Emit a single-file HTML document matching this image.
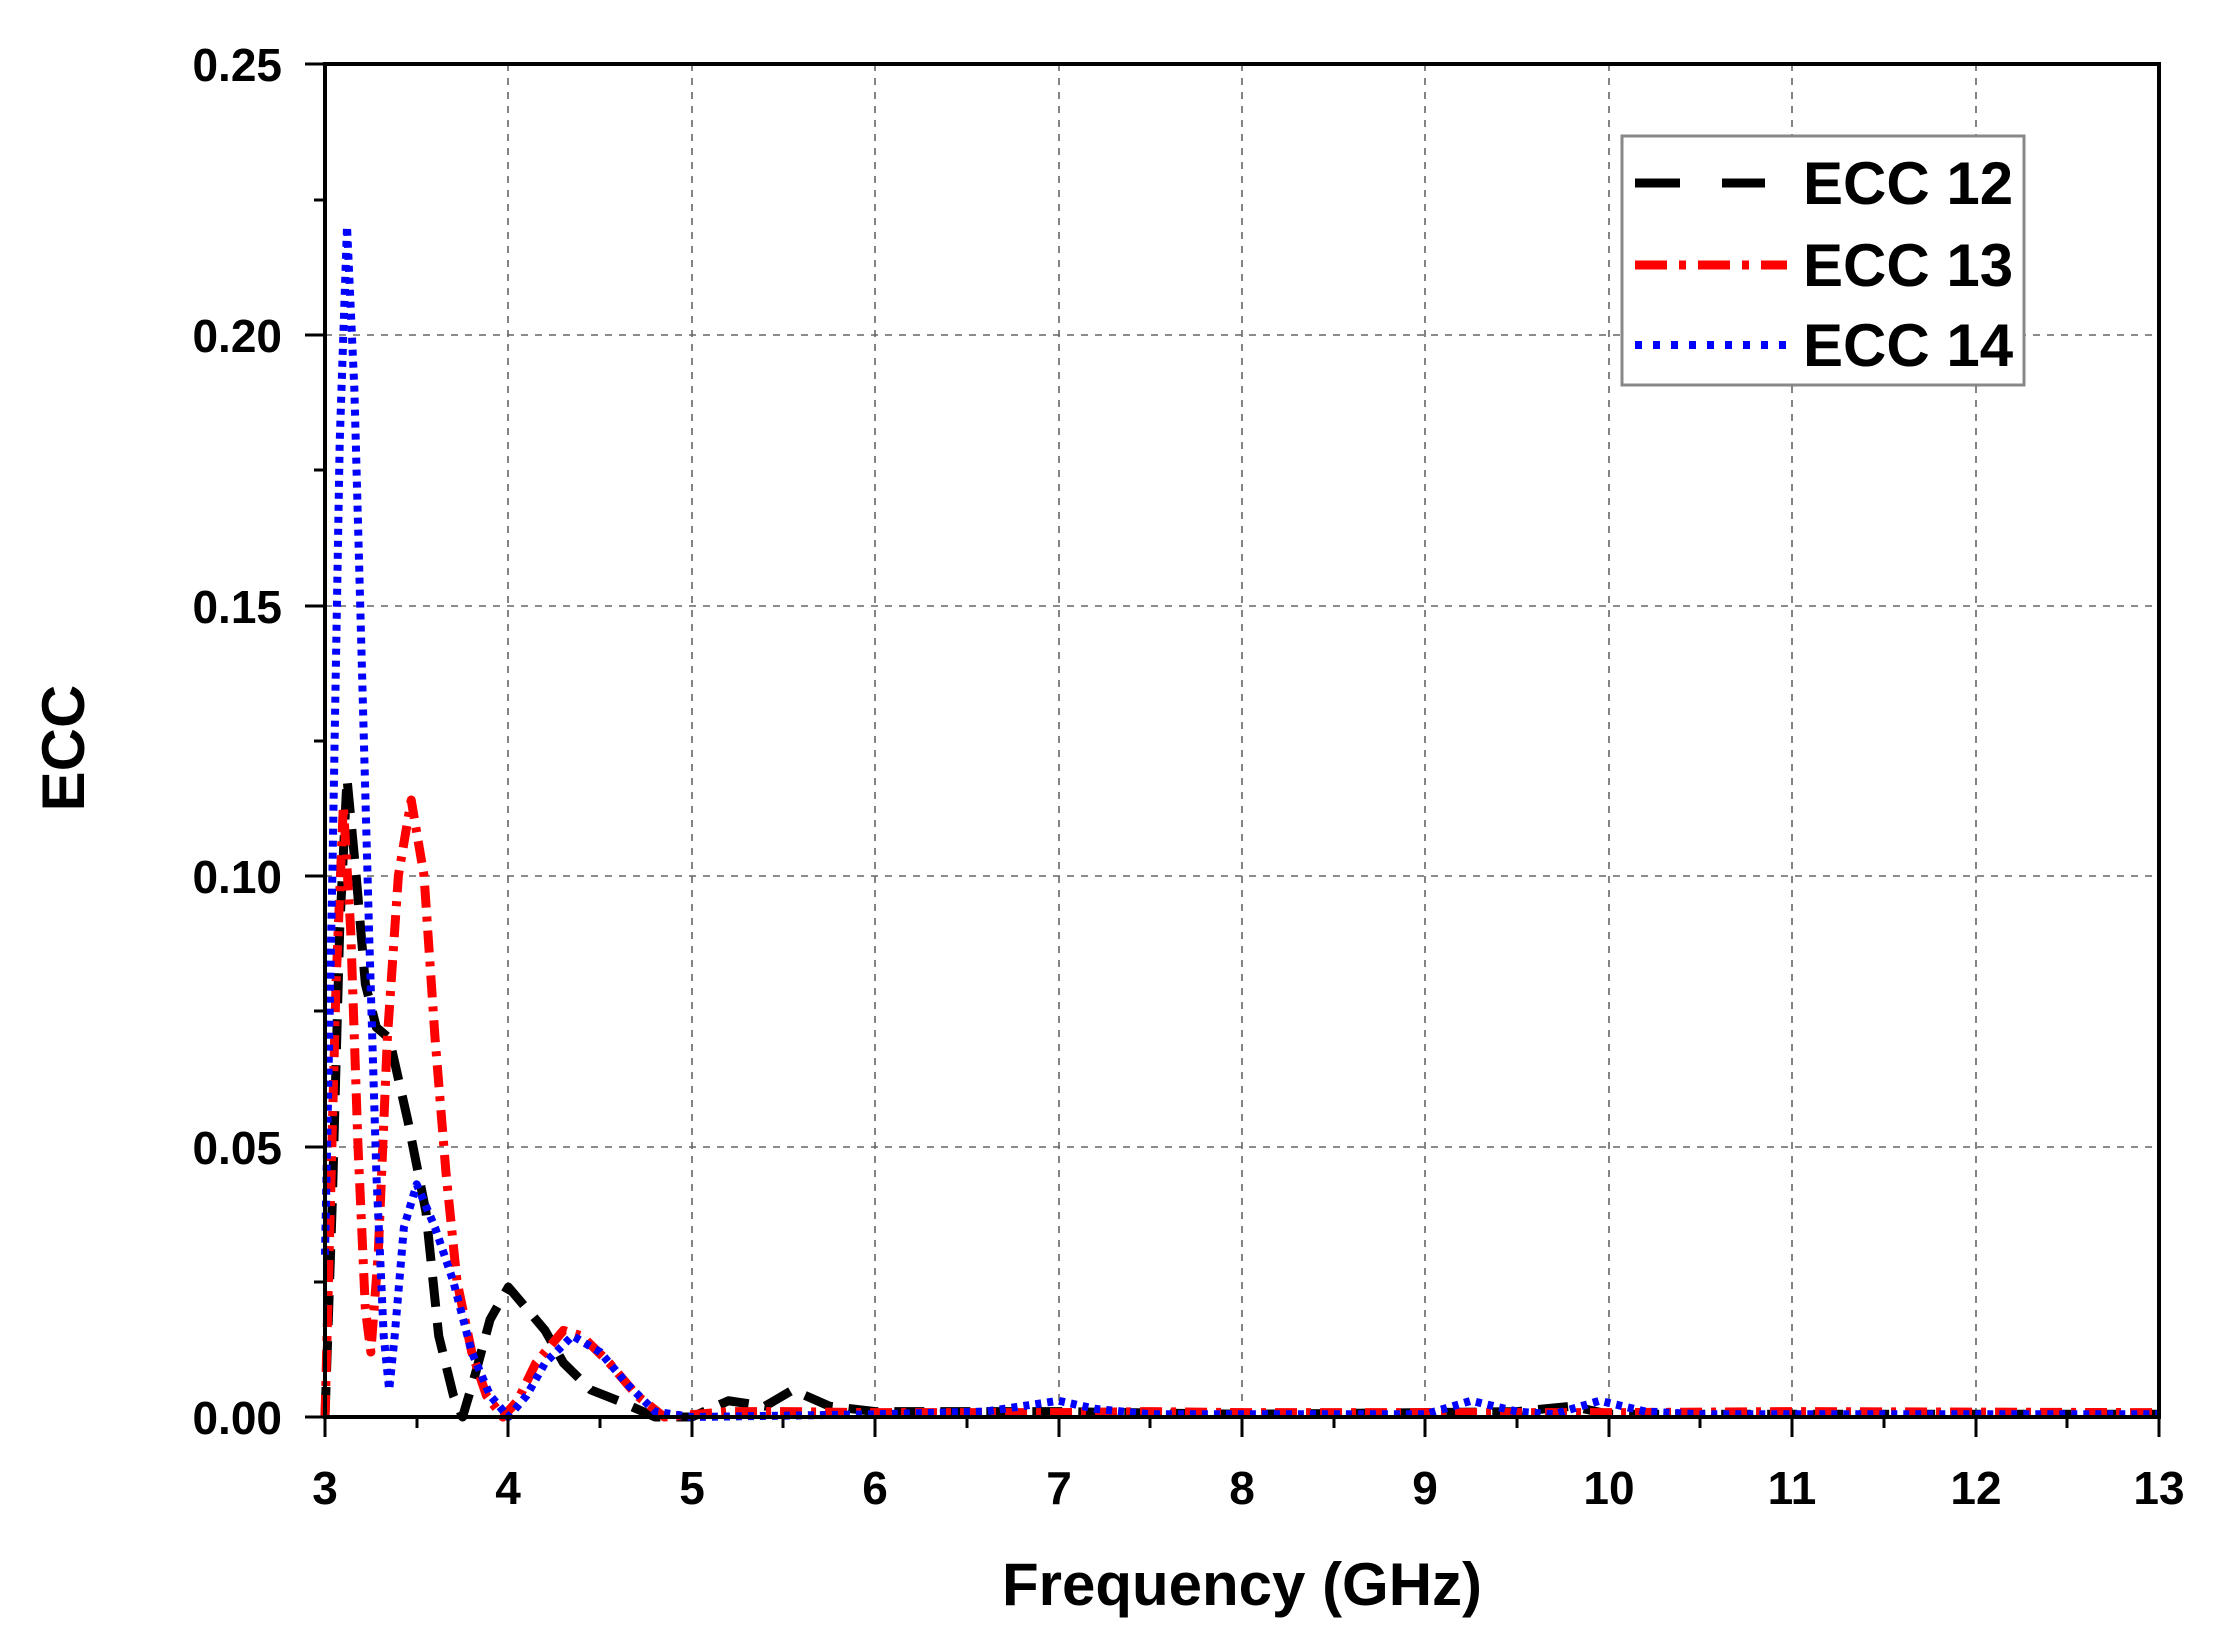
<!DOCTYPE html>
<html><head><meta charset="utf-8"><style>
html,body{margin:0;padding:0;background:#fff;}
svg{display:block;}
text{font-family:"Liberation Sans",Arial,sans-serif;font-weight:bold;fill:#000;}
</style></head><body>
<svg width="2226" height="1650" viewBox="0 0 2226 1650" xmlns="http://www.w3.org/2000/svg">
<rect width="2226" height="1650" fill="#fff"/>
<g stroke="#666" stroke-width="1.6" stroke-dasharray="7,7" fill="none">
<line x1="508" y1="64" x2="508" y2="1417"/>
<line x1="692" y1="64" x2="692" y2="1417"/>
<line x1="875" y1="64" x2="875" y2="1417"/>
<line x1="1059" y1="64" x2="1059" y2="1417"/>
<line x1="1242" y1="64" x2="1242" y2="1417"/>
<line x1="1425" y1="64" x2="1425" y2="1417"/>
<line x1="1609" y1="64" x2="1609" y2="1417"/>
<line x1="1792" y1="64" x2="1792" y2="1417"/>
<line x1="1976" y1="64" x2="1976" y2="1417"/>
<line x1="325" y1="335" x2="2159" y2="335"/>
<line x1="325" y1="606" x2="2159" y2="606"/>
<line x1="325" y1="876" x2="2159" y2="876"/>
<line x1="325" y1="1147" x2="2159" y2="1147"/>
</g>
<g transform="translate(325,1417) scale(183.4,-5412)" fill="none" stroke-linejoin="round">
<polyline vector-effect="non-scaling-stroke" stroke="#000" stroke-width="9" stroke-dasharray="30,16"
points="0,0 0.04,0.04 0.08,0.09 0.12,0.118 0.17,0.1 0.22,0.08 0.28,0.072 0.35,0.07 0.45,0.055 0.55,0.038 0.62,0.015 0.7,0.004 0.75,0 0.82,0.008 0.9,0.018 1.0,0.024 1.1,0.02 1.2,0.016 1.3,0.01 1.45,0.005 1.6,0.003 1.8,0 2.0,0 2.2,0.003 2.4,0.002 2.55,0.005 2.75,0.002 3,0.001 4,0.001 5,0.0005 6,0.0008 6.5,0.001 6.8,0.002 7,0.0005 8,0.0005 10,0.0005"/>
<polyline vector-effect="non-scaling-stroke" stroke="#f00" stroke-width="9" stroke-dasharray="22,9,5,9"
points="0,0 0.03,0.04 0.06,0.08 0.1,0.113 0.14,0.09 0.18,0.05 0.22,0.02 0.25,0.012 0.29,0.03 0.34,0.07 0.4,0.1 0.47,0.114 0.54,0.1 0.6,0.07 0.66,0.045 0.72,0.025 0.8,0.012 0.88,0.004 0.97,0 1.05,0.003 1.15,0.01 1.3,0.016 1.4,0.015 1.55,0.01 1.7,0.004 1.85,0 2.2,0.001 2.5,0.001 3,0.0008 4,0.0008 4.5,0.001 5,0.0008 6,0.0008 7,0.0008 8,0.001 10,0.0008"/>
<polyline vector-effect="non-scaling-stroke" stroke="#00f" stroke-width="8" stroke-dasharray="6,6"
points="0,0.03 0.04,0.1 0.08,0.18 0.12,0.22 0.16,0.19 0.2,0.14 0.24,0.09 0.28,0.045 0.32,0.015 0.35,0.005 0.38,0.015 0.43,0.035 0.5,0.043 0.6,0.035 0.7,0.025 0.8,0.012 0.9,0.004 1.0,0 1.1,0.004 1.2,0.01 1.35,0.015 1.5,0.012 1.65,0.006 1.8,0.001 2,0 3,0.0005 3.6,0.001 3.8,0.002 4,0.003 4.2,0.0015 4.5,0.0005 5.5,0.0005 6,0.0005 6.25,0.003 6.5,0.001 6.7,0.0005 6.95,0.003 7.2,0.001 7.5,0.0005 10,0.0005"/>
</g>
<rect x="325" y="64" width="1834" height="1353" fill="none" stroke="#000" stroke-width="4"/>
<g stroke="#000" stroke-width="3">
<line x1="325" y1="1417" x2="325" y2="1437"/><line x1="508" y1="1417" x2="508" y2="1437"/><line x1="692" y1="1417" x2="692" y2="1437"/><line x1="875" y1="1417" x2="875" y2="1437"/><line x1="1059" y1="1417" x2="1059" y2="1437"/><line x1="1242" y1="1417" x2="1242" y2="1437"/><line x1="1425" y1="1417" x2="1425" y2="1437"/><line x1="1609" y1="1417" x2="1609" y2="1437"/><line x1="1792" y1="1417" x2="1792" y2="1437"/><line x1="1976" y1="1417" x2="1976" y2="1437"/><line x1="2159" y1="1417" x2="2159" y2="1437"/>
<line x1="417" y1="1417" x2="417" y2="1428"/><line x1="600" y1="1417" x2="600" y2="1428"/><line x1="783" y1="1417" x2="783" y2="1428"/><line x1="967" y1="1417" x2="967" y2="1428"/><line x1="1150" y1="1417" x2="1150" y2="1428"/><line x1="1334" y1="1417" x2="1334" y2="1428"/><line x1="1517" y1="1417" x2="1517" y2="1428"/><line x1="1700" y1="1417" x2="1700" y2="1428"/><line x1="1884" y1="1417" x2="1884" y2="1428"/><line x1="2067" y1="1417" x2="2067" y2="1428"/>
<line x1="305" y1="64" x2="325" y2="64"/><line x1="305" y1="335" x2="325" y2="335"/><line x1="305" y1="606" x2="325" y2="606"/><line x1="305" y1="876" x2="325" y2="876"/><line x1="305" y1="1147" x2="325" y2="1147"/><line x1="305" y1="1417" x2="325" y2="1417"/>
<line x1="314" y1="200" x2="325" y2="200"/><line x1="314" y1="470" x2="325" y2="470"/><line x1="314" y1="741" x2="325" y2="741"/><line x1="314" y1="1011" x2="325" y2="1011"/><line x1="314" y1="1282" x2="325" y2="1282"/>
</g>
<g font-size="46" text-anchor="end">
<text x="282" y="81">0.25</text><text x="282" y="352">0.20</text><text x="282" y="623">0.15</text><text x="282" y="893">0.10</text><text x="282" y="1164">0.05</text><text x="282" y="1434">0.00</text>
</g>
<g font-size="46" text-anchor="middle">
<text x="325" y="1504">3</text><text x="508" y="1504">4</text><text x="692" y="1504">5</text><text x="875" y="1504">6</text><text x="1059" y="1504">7</text><text x="1242" y="1504">8</text><text x="1425" y="1504">9</text><text x="1609" y="1504">10</text><text x="1792" y="1504">11</text><text x="1976" y="1504">12</text><text x="2159" y="1504">13</text>
</g>
<text x="1242" y="1605" font-size="60" text-anchor="middle">Frequency (GHz)</text>
<text transform="translate(84,748) rotate(-90)" font-size="60" text-anchor="middle">ECC</text>
<rect x="1622" y="136" width="402" height="249" fill="#fff" stroke="#888" stroke-width="3"/>
<line x1="1635" y1="183" x2="1765" y2="183" stroke="#000" stroke-width="9" stroke-dasharray="45,42"/>
<line x1="1635" y1="265" x2="1787" y2="265" stroke="#f00" stroke-width="9" stroke-dasharray="32,12,7,12"/>
<line x1="1635" y1="345" x2="1787" y2="345" stroke="#00f" stroke-width="8" stroke-dasharray="7,11"/>
<g font-size="60">
<text x="1803" y="204">ECC 12</text><text x="1803" y="286">ECC 13</text><text x="1803" y="366">ECC 14</text>
</g>
</svg>
</body></html>
